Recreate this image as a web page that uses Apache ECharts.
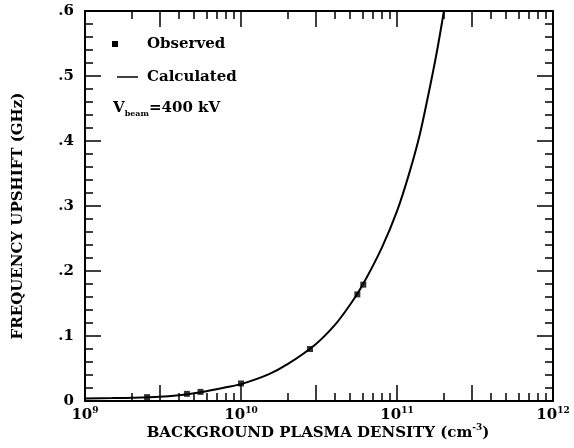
<!DOCTYPE html>
<html>
<head>
<meta charset="utf-8">
<script src="https://cdn.jsdelivr.net/npm/echarts@6/dist/echarts.min.js"></script>
<style>html,body{margin:0;padding:0;background:#fff}#c{width:574px;height:448px}</style>
</head>
<body>
<div id="c"></div>
<script>
// Observed data (density in cm^-3, frequency upshift in GHz)
const obsDensity = [2.5e9, 4.5e9, 5.5e9, 1.0e10, 2.77e10, 5.57e10, 6.08e10];
const obsShift   = [0.006, 0.011, 0.014, 0.027, 0.080, 0.164, 0.179];
// Calculated curve
const calcDensity = [1e9, 1.5e9, 2e9, 3e9, 4e9, 5e9, 6e9, 8e9, 1e10, 1.5e10, 2e10, 3e10, 4e10, 5e10, 6e10, 8e10, 1e11, 1.2e11, 1.4e11, 1.6e11, 1.8e11, 2e11, 2.1e11];
const calcShift   = [0.004, 0.0045, 0.005, 0.0065, 0.009, 0.012, 0.015, 0.021, 0.026, 0.041, 0.057, 0.087, 0.117, 0.148, 0.178, 0.236, 0.292, 0.351, 0.41, 0.475, 0.537, 0.60, 0.63];
// Axis tick labels
const xDecades = [9, 10, 11, 12];
const yTicks = [0, 0.1, 0.2, 0.3, 0.4, 0.5, 0.6];
const longTickMult = [1, 3];
const shortTickMult = [2, 4, 5, 6, 7, 8, 9];

const FONT = 'DejaVu Serif';
const FS = 15;
const lg = v => Math.log10(v);
const longTicks = [], shortTicks = [];
for (let d = 9; d < 12; d++) {
  longTickMult.forEach(m => longTicks.push(d + lg(m)));
  shortTickMult.forEach(m => shortTicks.push(d + lg(m)));
}
longTicks.push(12);

function xAxisDef(pos, ticks, len, showLabel, showLine) {
  return {
    type: 'value', min: 9, max: 12, position: pos,
    axisLine: {show: showLine, onZero: false, lineStyle: {color: '#000', width: 2}},
    axisTick: {show: true, inside: true, length: len, customValues: ticks, lineStyle: {color: '#000', width: 1.5}},
    axisLabel: showLabel ? {
      show: true, customValues: xDecades, margin: 5,
      formatter: v => '{b|10}{s|' + Math.round(v) + '}',
      rich: {
        b: {fontFamily: FONT, fontWeight: 'bold', fontSize: FS, color: '#000', lineHeight: 19},
        s: {fontFamily: FONT, fontWeight: 'bold', fontSize: 9, color: '#000', verticalAlign: 'top', lineHeight: 10}
      }
    } : {show: false},
    splitLine: {show: false}
  };
}
function yAxisDef(pos, showLabel) {
  return {
    type: 'value', min: 0, max: 0.6, interval: 0.1, position: pos,
    axisLine: {show: true, onZero: false, lineStyle: {color: '#000', width: 2}},
    axisTick: {show: true, inside: true, length: 16, lineStyle: {color: '#000', width: 1.5}},
    minorTick: {show: true, splitNumber: 5, length: 8, lineStyle: {color: '#000', width: 1.5}},
    axisLabel: showLabel ? {
      show: true, margin: 11, fontFamily: FONT, fontWeight: 'bold', fontSize: FS, color: '#000',
      formatter: v => v === 0 ? '0' : v.toFixed(1).replace('0.', '.')
    } : {show: false},
    splitLine: {show: false}, minorSplitLine: {show: false}
  };
}

const chart = echarts.init(document.getElementById('c'), null, {renderer: 'canvas'});
chart.setOption({
  animation: false,
  backgroundColor: '#fff',
  grid: {left: 85, right: 21, top: 11, bottom: 47},
  xAxis: [
    xAxisDef('bottom', longTicks, 16, true, true),
    xAxisDef('bottom', shortTicks, 8, false, false),
    xAxisDef('top', longTicks, 16, false, true),
    xAxisDef('top', shortTicks, 8, false, false)
  ],
  yAxis: [yAxisDef('left', true), yAxisDef('right', false)],
  series: [
    {
      name: 'Calculated', type: 'line', xAxisIndex: 0, yAxisIndex: 0,
      smooth: 0.3, showSymbol: false, clip: true,
      lineStyle: {color: '#000', width: 2},
      data: calcDensity.map((d, i) => [lg(d), calcShift[i]])
    },
    {
      name: 'Observed', type: 'scatter', xAxisIndex: 0, yAxisIndex: 0,
      symbol: 'rect', symbolSize: 6, itemStyle: {color: '#000'},
      data: obsDensity.map((d, i) => [lg(d), obsShift[i]])
    }
  ],
  graphic: [
    {type: 'rect', shape: {x: 112, y: 41, width: 6, height: 6}, style: {fill: '#000'}},
    {type: 'text', x: 147, y: 44, style: {text: 'Observed', fontFamily: FONT, fontWeight: 'bold', fontSize: FS, fill: '#000', verticalAlign: 'middle'}},
    {type: 'line', shape: {x1: 117, y1: 77, x2: 138, y2: 77}, style: {stroke: '#000', lineWidth: 1.5}},
    {type: 'text', x: 147, y: 77, style: {text: 'Calculated', fontFamily: FONT, fontWeight: 'bold', fontSize: FS, fill: '#000', verticalAlign: 'middle'}},
    {type: 'text', x: 113, y: 108, style: {
      text: '{v|V}{sub|beam}{t|=400 kV}', verticalAlign: 'middle',
      rich: {
        v: {fontFamily: FONT, fontWeight: 'bold', fontSize: FS, fill: '#000', lineHeight: 19},
        sub: {fontFamily: FONT, fontWeight: 'bold', fontSize: 8, fill: '#000', verticalAlign: 'bottom', lineHeight: 10},
        t: {fontFamily: FONT, fontWeight: 'bold', fontSize: FS, fill: '#000', lineHeight: 19}
      }
    }},
    {type: 'text', x: 318, y: 433, style: {
      text: '{a|BACKGROUND PLASMA DENSITY (cm}{s|-3}{a|)}', align: 'center', verticalAlign: 'middle',
      rich: {
        a: {fontFamily: FONT, fontWeight: 'bold', fontSize: FS, fill: '#000', lineHeight: 19},
        s: {fontFamily: FONT, fontWeight: 'bold', fontSize: 9, fill: '#000', verticalAlign: 'top', lineHeight: 10}
      }
    }},
    {type: 'text', x: 18, y: 216, rotation: Math.PI / 2, style: {
      text: 'FREQUENCY UPSHIFT (GHz)', align: 'center', verticalAlign: 'middle',
      fontFamily: FONT, fontWeight: 'bold', fontSize: 15, fill: '#000'
    }}
  ]
});
</script>
</body>
</html>
